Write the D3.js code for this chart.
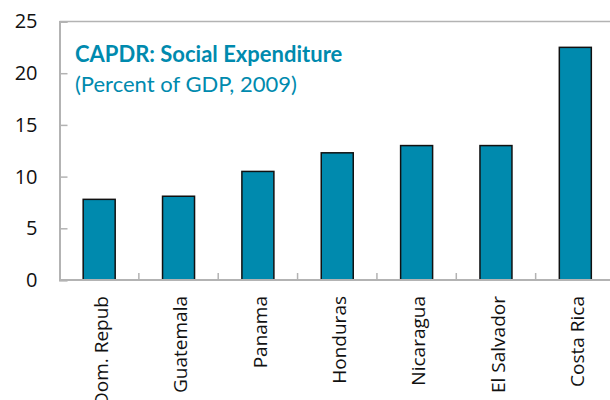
<!DOCTYPE html>
<html>
<head>
<meta charset="utf-8">
<script src="https://cdn.jsdelivr.net/npm/d3@7"></script>
<style>
  html, body { margin: 0; padding: 0; background: #fff; }
  svg { display: block; }
</style>
</head>
<body>
<svg id="chart" width="610" height="400"></svg>
<script>
// Social expenditure, percent of GDP, 2009
const countries = ["Dom. Repub", "Guatemala", "Panama", "Honduras", "Nicaragua", "El Salvador", "Costa Rica"];
const spending = [7.8, 8.1, 10.5, 12.3, 13.0, 13.0, 22.5];
const yTicks = [0, 5, 10, 15, 20, 25];
const titleText = "CAPDR: Social Expenditure";
const subtitleText = "(Percent of GDP, 2009)";

const svg = d3.select("#chart");
const margin = { left: 59.5, right: -5, top: 21.5, bottom: 120 };
const W = 610, H = 400;
const x0 = margin.left, x1 = W - margin.right;
const y0 = H - margin.bottom, y1 = margin.top;

const xb = d3.scaleBand().domain(countries).range([x0, x1]);
const y = d3.scaleLinear().domain([0, 25]).range([y0, y1]);

const grey = "#b3b3b3";
const teal = "#008aae";

// top border of the plot frame
svg.append("line").attr("x1", x0).attr("x2", x1).attr("y1", y1).attr("y2", y1)
  .attr("stroke", grey).attr("stroke-width", 1.5);

// bars
svg.append("g").selectAll("rect").data(spending).join("rect")
  .attr("x", (d, i) => xb(countries[i]) + xb.bandwidth() / 2 - 16)
  .attr("width", 32)
  .attr("y", d => y(d))
  .attr("height", d => y(0) - y(d))
  .attr("fill", teal)
  .attr("stroke", "#111")
  .attr("stroke-width", 1.5);

// y axis
const yAxis = d3.axisLeft(y).tickValues(yTicks).tickSize(-8).tickPadding(22);
const gy = svg.append("g").attr("transform", `translate(${x0},0)`).call(yAxis);
gy.select(".domain").attr("stroke", grey).attr("stroke-width", 2);
gy.selectAll(".tick line").attr("stroke", grey).attr("stroke-width", 1.5);
gy.selectAll(".tick text")
  .attr("fill", "#111")
  .style("font-family", "'Open Sans', sans-serif")
  .style("font-size", "20px");

// x axis: baseline with separators between categories
svg.append("line").attr("x1", x0).attr("x2", x1).attr("y1", y0).attr("y2", y0)
  .attr("stroke", grey).attr("stroke-width", 2);
svg.append("g").selectAll("line").data(countries.slice(1)).join("line")
  .attr("x1", d => xb(d)).attr("x2", d => xb(d))
  .attr("y1", y0).attr("y2", y0 - 7)
  .attr("stroke", grey).attr("stroke-width", 1.5);

// category labels, rotated
svg.append("g").selectAll("text").data(countries).join("text")
  .attr("transform", d => `translate(${xb(d) + xb.bandwidth() / 2 + 2},${y0 + 16}) rotate(-90)`)
  .attr("text-anchor", "end")
  .attr("dy", "0.35em")
  .attr("fill", "#111")
  .style("font-family", "'Open Sans', sans-serif")
  .style("font-size", "19px")
  .text(d => d);

// title block
svg.append("text")
  .attr("x", 75).attr("y", 62)
  .attr("fill", teal)
  .style("font-family", "Lato, sans-serif")
  .style("font-weight", "bold")
  .style("font-size", "22px")
  .text(titleText);
svg.append("text")
  .attr("x", 75).attr("y", 92)
  .attr("fill", teal)
  .style("font-family", "Lato, sans-serif")
  .style("font-size", "22px")
  .text(subtitleText);
</script>
</body>
</html>
